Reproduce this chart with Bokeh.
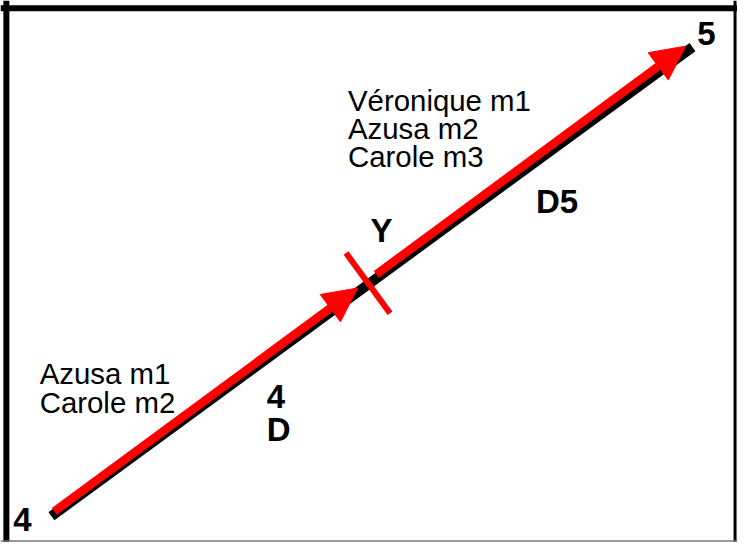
from bokeh.plotting import figure
from bokeh.models import Range1d, Arrow, NormalHead, Span, ColumnDataSource
from bokeh.core.properties import value
from bokeh.embed import file_html
from bokeh.resources import INLINE

# Route diagram, coordinates in reference pixels (y grows downward)
shadow_x = [52, 707]
shadow_y = [531, 48]
leg1_x = [55, 365]
leg1_y = [526, 296]
leg2_x = [384, 700]
leg2_y = [282, 47]
cross_x = [353, 398]
cross_y = [260, 322]

note_text = ["Véronique m1", "Azusa m2", "Carole m3", "Azusa m1", "Carole m2"]
note_x = [355, 355, 355, 40, 40]
note_y = [112, 141, 170, 393, 423]

label_text = ["5", "4", "Y", "D5", "4", "D"]
label_x = [712, 13, 378, 547, 272, 272]
label_y = [45, 545, 247, 217, 418, 452]

W, H = 737, 542
REF_W, REF_H = 753, 558
sx, sy = W / REF_W, H / REF_H

p = figure(width=W, height=H, x_range=Range1d(0, REF_W), y_range=Range1d(REF_H, 0),
           output_backend="svg", toolbar_location=None, min_border=0, title=None,
           x_axis_location=None, y_axis_location=None)
p.grid.visible = False
p.outline_line_color = None
p.background_fill_color = "white"
p.border_fill_color = "white"

# frame
p.add_layout(Span(location=6, dimension="height", line_color="black", line_width=6))
p.add_layout(Span(location=8, dimension="width", line_color="black", line_width=6))
p.add_layout(Span(location=750.5, dimension="height", line_color="black", line_width=3))
p.add_layout(Span(location=556.5, dimension="width", line_color="#777777", line_width=1.5))

# shadow line
p.line(shadow_x, shadow_y, line_color="black", line_width=10, line_cap="butt")

# red legs with arrow heads
for xs, ys in ((leg1_x, leg1_y), (leg2_x, leg2_y)):
    p.add_layout(Arrow(x_start=xs[0], y_start=ys[0], x_end=xs[1], y_end=ys[1],
                       line_color="red", line_width=8.5, line_cap="butt",
                       end=NormalHead(size=34, fill_color="red", line_color="red", line_width=1)))

# crossing mark
p.line(cross_x, cross_y, line_color="red", line_width=6, line_cap="butt")

NOTE_FS = 29.4
LABEL_FS = 33.0
note_anchor = [y - 0.31 * NOTE_FS / sy for y in note_y]
label_anchor = [y - 0.31 * LABEL_FS / sy for y in label_y]

notes = ColumnDataSource(dict(x=note_x, y=note_anchor, t=note_text))
p.text("x", "y", text="t", source=notes, text_font=value("Liberation Sans"),
       text_font_size=f"{NOTE_FS}px", text_color="black",
       text_baseline="alphabetic", text_align="left")

labels = ColumnDataSource(dict(x=label_x, y=label_anchor, t=label_text))
p.text("x", "y", text="t", source=labels, text_font=value("Liberation Sans"),
       text_font_size=f"{LABEL_FS}px", text_font_style="bold", text_color="black",
       text_baseline="alphabetic", text_align="left")

open("out.html", "w").write(file_html(p, INLINE))
